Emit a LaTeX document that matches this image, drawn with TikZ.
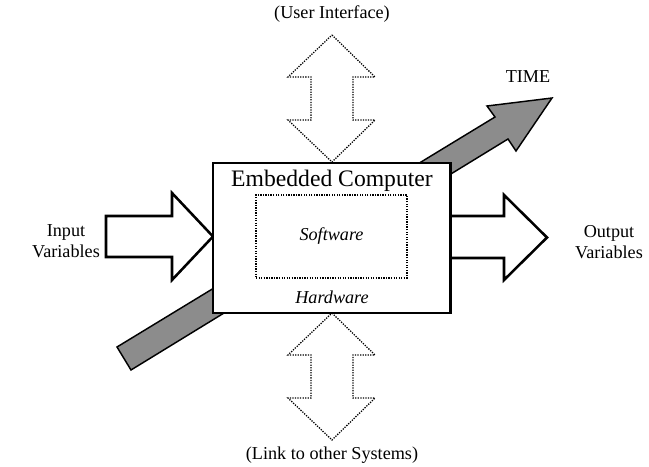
\documentclass[tikz,border=0pt]{standalone}
\usepackage{fontspec}
\setmainfont{Liberation Serif}
\usetikzlibrary{positioning, calc}
\colorlet{timegray}{black!45}
\tikzset{
  bigarrow/.style={draw, line width=1.4pt, line join=miter, fill=white},
  linkarrow/.style={draw, dash pattern=on 0.7pt off 0.7pt, line width=0.7pt, line join=miter},
  timearrow/.style={draw, line width=0.8pt, line join=miter, fill=timegray},
  lbl/.style={inner sep=0pt, align=center, font=\fontsize{10}{11.5}\selectfont}
}

\begin{document}
\begin{tikzpicture}[x=0.55pt, y=-0.55pt]
  \useasboundingbox (0,0) rectangle (649,467);

  % Time arrow, goes behind the computer
  \draw[timearrow] (117,347) -- (495,117) -- (487,106) -- (552,98)
    -- (516,151) -- (508,139) -- (131,370) -- cycle;

  % Input and output variables
  \draw[bigarrow] (106,216) -- (172,216) -- (172,193) -- (213,236.5)
    -- (172,280) -- (172,257) -- (106,257) -- cycle;
  \draw[bigarrow] (450,216) -- (504,216) -- (504,195) -- (547,237.5)
    -- (504,280) -- (504,258) -- (450,258);

  % User interface / link to other systems
  \foreach \s in {0,278}{
    \draw[linkarrow] (332,35+\s) -- (375,77+\s) -- (353,77+\s) -- (353,120+\s)
      -- (375,120+\s) -- (332,162+\s) -- (288,120+\s) -- (311,120+\s)
      -- (311,77+\s) -- (288,77+\s) -- cycle;
  }

  % Embedded computer
  \node[draw, line width=1.6pt, fill=white, minimum width=130.4pt, minimum height=82.5pt] (comp) at (331.5,238) {};
  \node[draw, dash pattern=on 0.7pt off 0.7pt, line width=0.7pt, minimum width=83pt, minimum height=45.6pt] (soft) at (331.5,236.5) {};
  \node[lbl, font=\fontsize{13}{15}\selectfont] (title) at (332,181) {Embedded Computer};
  \node[lbl, font=\itshape] (swlbl) at (soft.center) {Software};
  \node[lbl, font=\itshape] (hwlbl) at (332,297) {Hardware};

  % Labels
  \node[lbl] (ui) at (332,14) {(User Interface)};
  \node[lbl] (link) at (332,455) {(Link to other Systems)};
  \node[lbl] (time) at (528,77) {TIME};
  \node[lbl] (invar) at (66,241) {Input\\Variables};
  \node[lbl] (outvar) at (609,242) {Output\\Variables};
\end{tikzpicture}
\end{document}
